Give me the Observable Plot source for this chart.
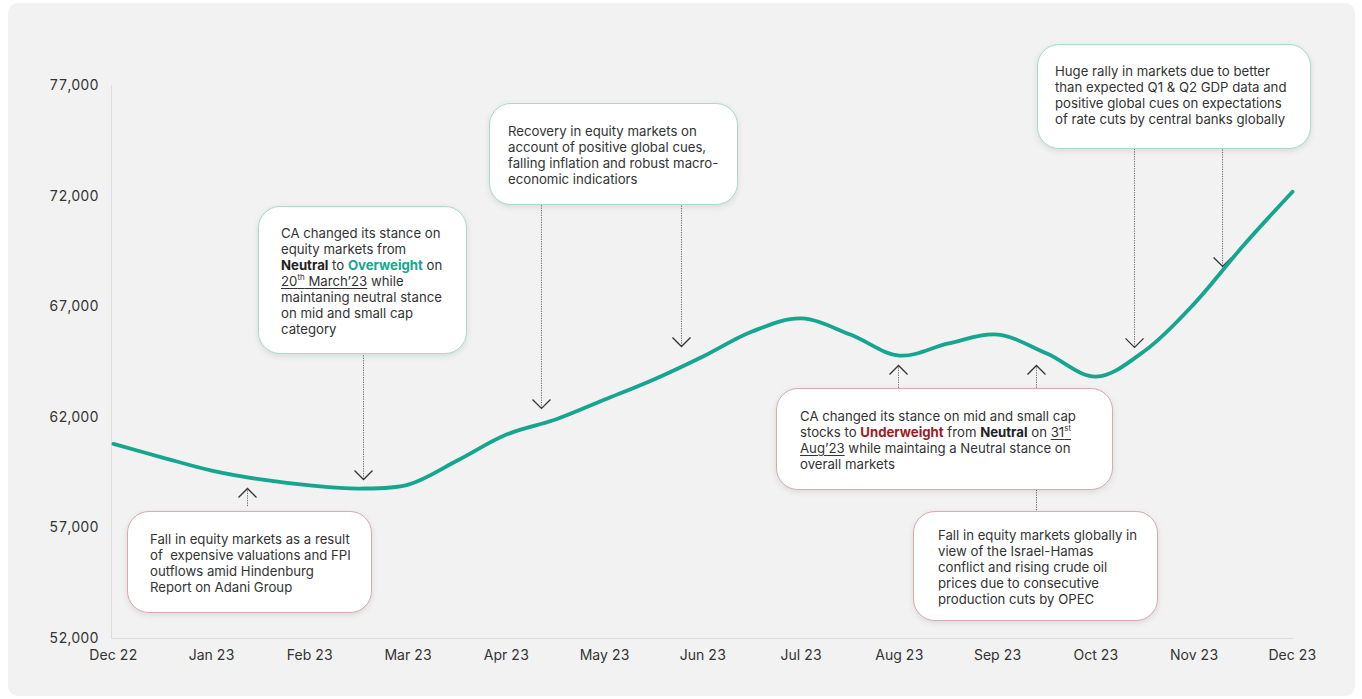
<!DOCTYPE html>
<html>
<head>
<meta charset="utf-8">
<script src="https://cdn.jsdelivr.net/npm/d3@7"></script>
<script src="https://cdn.jsdelivr.net/npm/@observablehq/plot@0.6"></script>
<style>
  html, body { margin: 0; padding: 0; background: #ffffff; }
  #wrap { position: relative; width: 1362px; height: 699px; overflow: hidden; font-family: Inter, "Noto Sans", sans-serif; }
  #panel { position: absolute; left: 8px; top: 3px; width: 1347px; height: 693px; background: #f2f2f2; border-radius: 10px; }
  #chart { position: absolute; left: 0; top: 0; }
  .box { position: absolute; box-sizing: border-box; background: #ffffff; border-radius: 22px; border: 1px solid #a9d9cf;
         box-shadow: 0 2px 6px rgba(0,0,0,0.10); font-size: 13.2px; line-height: 16px; color: #333; white-space: nowrap; }
  .box.neg { border-color: #d9abad; }
  .box b { font-weight: 700; color: #222; }
  .box b.ow { color: #17a68e; }
  .box b.uw { color: #9e1b1f; }
  .box u { text-decoration: underline; text-underline-offset: 2px; text-decoration-thickness: 1px; }
  .box sup { font-size: 8px; line-height: 0; vertical-align: 6px; }
</style>
</head>
<body>
<div id="wrap">
  <div id="panel"></div>
  <div id="chart"></div>
</div>
<script>
// ---- data ----
const monthLabels = ["Dec 22","Jan 23","Feb 23","Mar 23","Apr 23","May 23","Jun 23","Jul 23","Aug 23","Sep 23","Oct 23","Nov 23","Dec 23"];
// half-month positions (0 = Dec 22 ... 12 = Dec 23)
const pos = [0,0.5,1,1.5,2,2.5,3,3.5,4,4.5,5,5.5,6,6.5,7,7.5,8,8.5,9,9.5,10,10.5,11,11.5,12];
const index = [60800,60180,59590,59190,58920,58780,58960,60050,61220,61900,62800,63710,64750,65880,66470,65740,64790,65340,65740,64880,63840,65020,67140,69770,72200];
const yTicks = [52000,57000,62000,67000,72000,77000];

// annotation arrows: month position, value at arrow tip, value at box edge, direction
const arrowX    = [1.364, 2.545, 4.356, 5.781, 7.99, 9.394, 10.392, 11.288];
const arrowTip  = [58780, 59190, 62400, 65200, 64340, 64340, 65160, 68820];
const arrowBase = [57920, 64790, 71570, 71570, 63300, 57700, 74100, 74100];
const arrowDir  = ["up","down","down","down","up","up","down","down"];

const series = pos.map((p, i) => ({pos: p, value: index[i]}));
const arrows = arrowX.map((x, i) => ({x, tip: arrowTip[i], base: arrowBase[i], dir: arrowDir[i]}));

const chevDown = {draw(ctx) { ctx.moveTo(-9, -9); ctx.lineTo(0, 0); ctx.lineTo(9, -9); }};
const chevUp   = {draw(ctx) { ctx.moveTo(-9, 9); ctx.lineTo(0, 0); ctx.lineTo(9, 9); }};

const chart = Plot.plot({
  width: 1362,
  height: 699,
  marginLeft: 111,
  marginRight: 68,
  marginTop: 85,
  marginBottom: 61,
  style: {fontFamily: "Inter, 'Noto Sans', sans-serif", fontSize: "14px", background: "transparent", color: "#333"},
  x: {domain: [-0.02, 12.02], ticks: d3.range(0, 13), tickFormat: d => monthLabels[d], tickSize: 0, tickPadding: 12, label: null},
  y: {domain: [52000, 77000], ticks: yTicks, tickFormat: d3.format(","), tickSize: 0, tickPadding: 13, label: null},
  marks: [
    Plot.ruleX([-0.02], {stroke: "#dcdcdc", strokeWidth: 1}),
    Plot.ruleY([52000], {stroke: "#dcdcdc", strokeWidth: 1}),
    Plot.ruleX(arrows, {x: "x", y1: "tip", y2: "base", stroke: "#666", strokeWidth: 1, strokeDasharray: "1.2,1.2"}),
    Plot.dot(arrows.filter(d => d.dir === "down"), {x: "x", y: "tip", symbol: chevDown, r: 5, fill: "none", stroke: "#333", strokeWidth: 1.3}),
    Plot.dot(arrows.filter(d => d.dir === "up"), {x: "x", y: "tip", symbol: chevUp, r: 5, fill: "none", stroke: "#333", strokeWidth: 1.3}),
    Plot.line(series, {x: "pos", y: "value", curve: "catmull-rom", stroke: "#16a58d", strokeWidth: 3.8, strokeLinecap: "round"})
  ]
});
document.getElementById("chart").appendChild(chart);

// ---- annotation boxes (HTML text over the plot) ----
const notes = [
  {cls: "neg", l: 127, t: 511, w: 245, h: 102, pl: 22, pt: 19,
   html: "Fall in equity markets as a result<br>of&nbsp; expensive valuations and FPI<br>outflows amid Hindenburg<br>Report on Adani Group"},
  {cls: "", l: 258, t: 206, w: 209, h: 148, pl: 22, pt: 18,
   html: "CA changed its stance on<br>equity markets from<br><b>Neutral</b> to <b class='ow'>Overweight</b> on<br><u>20<sup>th</sup> March’23</u> while<br>maintaning neutral stance<br>on mid and small cap<br>category"},
  {cls: "", l: 489, t: 103, w: 249, h: 102, pl: 18, pt: 19,
   html: "Recovery in equity markets on<br>account of positive global cues,<br>falling inflation and robust macro-<br>economic indicatiors"},
  {cls: "neg", l: 776, t: 388, w: 337, h: 102, pl: 23, pt: 19,
   html: "CA changed its stance on mid and small cap<br>stocks to <b class='uw'>Underweight</b> from <b>Neutral</b> on <u>31<sup>st</sup></u><br><u>Aug’23</u> while maintaing a Neutral stance on<br>overall markets"},
  {cls: "neg", l: 913, t: 511, w: 245, h: 110, pl: 24, pt: 15,
   html: "Fall in equity markets globally in<br>view of the Israel-Hamas<br>conflict and rising crude oil<br>prices due to consecutive<br>production cuts by OPEC"},
  {cls: "", l: 1037, t: 44, w: 274, h: 105, pl: 17, pt: 18,
   html: "Huge rally in markets due to better<br>than expected Q1 &amp; Q2 GDP data and<br>positive global cues on expectations<br>of rate cuts by central banks globally"}
];
const wrap = document.getElementById("wrap");
for (const n of notes) {
  const d = document.createElement("div");
  d.className = "box " + n.cls;
  Object.assign(d.style, {left: n.l + "px", top: n.t + "px", width: n.w + "px", height: n.h + "px",
    paddingLeft: n.pl + "px", paddingTop: n.pt + "px"});
  d.innerHTML = n.html;
  wrap.appendChild(d);
}
</script>
</body>
</html>
